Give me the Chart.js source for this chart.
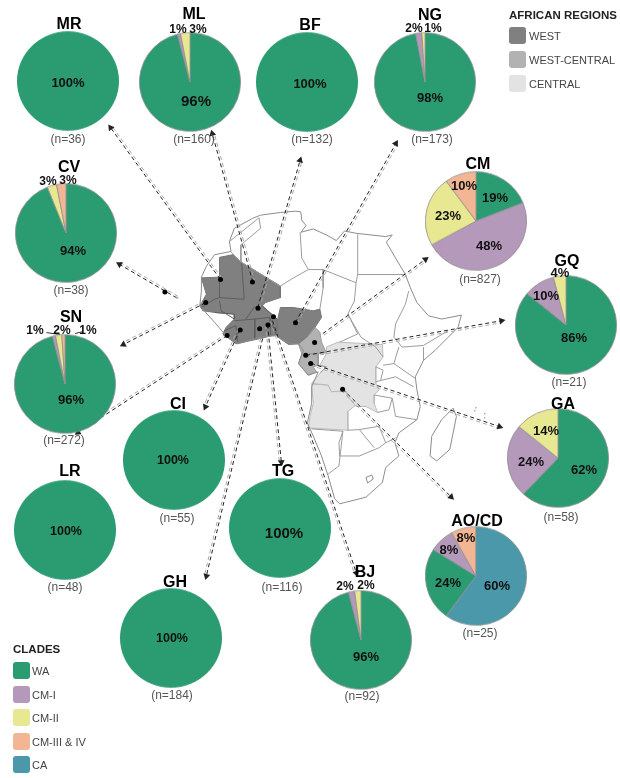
<!DOCTYPE html>
<html>
<head>
<meta charset="utf-8">
<script src="https://cdn.jsdelivr.net/npm/chart.js@4"></script>
<style>
  html, body { margin: 0; padding: 0; background: #fff; }
  #page { position: relative; width: 620px; height: 778px; overflow: hidden; font-family: "Liberation Sans", Arial, sans-serif; }
  #page canvas { position: absolute; }
  .txt { position: absolute; white-space: nowrap; transform: translate(-50%, -50%); line-height: 1; }
  .pct { font-weight: bold; color: #111; }
  .title { font-weight: bold; font-size: 16px; color: #000; }
  .n { font-size: 12px; color: #555; }
  .leg { position: absolute; white-space: nowrap; font-size: 11px; color: #444; line-height: 1; }
  .sw { position: absolute; width: 17px; height: 17px; border-radius: 3px; }
</style>
</head>
<body>
<div id="page"><canvas id="map" style="left:0;top:0"></canvas></div>
<script>
// Clades, in the order the slices run round each pie
var clades = ["WA", "CM-I", "CM-II", "CM-III & IV", "CA"];
var cladeColors = ["#2b9b72", "#b499bb", "#e8e892", "#f2b694", "#4a98aa"];

// Sites
var sites   = ["MR", "ML", "BF", "NG", "CV", "SN", "CM", "GQ", "GA", "AO/CD", "CI", "LR", "TG", "GH", "BJ"];
var sampleN = [36, 160, 132, 173, 38, 272, 827, 21, 58, 25, 55, 48, 116, 184, 92];

// Percent of each clade per site
var valuesWA   = [100, 96, 100, 98, 94, 96, 19, 86, 62, 24, 100, 100, 100, 100, 96];
var valuesCM1  = [0, 1, 0, 2, 0, 1, 48, 10, 24, 8, 0, 0, 0, 0, 2];
var valuesCM2  = [0, 3, 0, 1, 3, 2, 23, 4, 14, 0, 0, 0, 0, 0, 2];
var valuesCM34 = [0, 0, 0, 0, 3, 1, 10, 0, 0, 8, 0, 0, 0, 0, 0];
var valuesCA   = [0, 0, 0, 0, 0, 0, 0, 0, 0, 60, 0, 0, 0, 0, 0];

// Page placement of each pie, its title and its (n=) label
var pieX   = [68, 190, 307, 425, 66, 65, 476, 566, 558, 476, 174, 65, 280, 171, 361];
var pieY   = [81, 82, 82, 82, 233, 384, 221, 325, 458, 576, 460, 530, 528, 638, 640];
var titleX = [69, 194, 310, 430, 69, 71, 478, 567, 563, 477, 178, 70, 283, 175, 365];
var titleY = [24, 14, 25, 15, 167, 317, 164, 261, 404, 521, 404, 471, 471, 582, 572];
var nX     = [68, 194, 312, 432, 71, 64, 480, 569, 561, 480, 177, 65, 282, 172, 362];
var nY     = [139, 139, 139, 139, 290, 440, 279, 382, 517, 633, 518, 587, 587, 695, 696];

// text, x, y, font size
var pctLabels = [
  ["100%", 68, 82, 13], ["96%", 196, 100, 15], ["1%", 178, 29, 12], ["3%", 198, 29, 12],
  ["100%", 310, 83, 13], ["2%", 414, 28, 12], ["1%", 433, 28, 12], ["98%", 430, 97, 13],
  ["3%", 48, 181, 12], ["3%", 68, 180, 12], ["94%", 73, 250, 13],
  ["1%", 35, 330, 12], ["2%", 62, 330, 12], ["1%", 88, 330, 12], ["96%", 71, 399, 13],
  ["19%", 495, 197, 13], ["48%", 489, 245, 13], ["23%", 448, 215, 13], ["10%", 464, 185, 13],
  ["4%", 560, 272, 13], ["10%", 546, 295, 13], ["86%", 574, 337, 13],
  ["14%", 546, 430, 13], ["24%", 531, 461, 13], ["62%", 584, 469, 13],
  ["8%", 466, 537, 13], ["8%", 449, 549, 13], ["24%", 448, 582, 13], ["60%", 497, 585, 13],
  ["100%", 173, 460, 12.5], ["100%", 66, 531, 12.5], ["100%", 284, 532, 15], ["100%", 172, 638, 12.5],
  ["2%", 345, 586, 12], ["2%", 366, 585, 12], ["96%", 366, 656, 13]
];

// Legend of regions
var regions = ["WEST", "WEST-CENTRAL", "CENTRAL"];
var regionColors = ["#808080", "#b2b2b2", "#e3e3e3"];

var coast = [[60,258],[75,225],[100,190],[150,180],[145,150],[160,110],[215,80],[240,70],[300,62],[345,58],[362,60],[365,85],[378,102],[362,122],[400,112],[440,130],[470,147],[495,118],[530,125],[620,135],[640,130],[622,152],[650,200],[680,250],[695,290],[715,335],[750,375],[790,385],[850,373],[840,410],[810,440],[770,480],[735,510],[710,560],[715,600],[725,650],[715,690],[660,730],[648,760],[660,800],[620,835],[610,880],[560,925],[480,945],[465,930],[445,860],[425,800],[400,740],[382,700],[395,640],[395,590],[415,545],[385,555],[355,520],[370,480],[355,460],[335,460],[300,445],[290,435],[240,440],[170,460],[130,430],[100,395],[55,345],[60,300],[60,258]];
var madagascar = [[825,655],[835,680],[815,780],[775,815],[755,800],[760,740],[790,690],[825,655]];
var lesotho = [[560,865],[578,858],[582,870],[565,882],[560,865]];
var borders = [
  [[150,182],[180,212],[300,285],[340,260],[385,235],[365,200],[360,122]],
  [[145,150],[235,78],[240,110],[180,160],[180,212]],
  [[385,235],[430,235],[530,275],[535,250],[535,128]],
  [[535,250],[675,250]],
  [[530,275],[525,330],[505,370],[535,430],[480,455]],
  [[430,235],[430,290],[420,355]],
  [[505,370],[545,440],[590,470],[612,500]],
  [[690,300],[680,340],[650,400],[645,440],[670,470],[735,465],[810,420]],
  [[735,510],[735,470]],
  [[612,525],[645,520],[660,470]],
  [[645,520],[710,565]],
  [[590,575],[650,560],[705,590]],
  [[585,615],[640,625],[650,680],[715,690]],
  [[595,668],[630,660],[640,625]],
  [[505,722],[540,720],[600,710],[620,760],[600,775],[540,800],[480,800],[478,760],[490,725]],
  [[395,718],[490,725],[478,830],[445,855]],
  [[540,720],[585,775]],
  [[620,760],[650,745]],
  [[590,530],[612,540],[605,570]],
  [[415,525],[440,530],[420,548]],
  [[385,435],[405,410]],
  [[385,490],[415,490],[415,525]]
];
var westBorders = [
  [[100,365],[160,370],[160,385]],
  [[60,350],[100,325],[115,320],[190,325],[182,212]],
  [[115,320],[115,258]],
  [[115,330],[120,360],[160,385]],
  [[195,385],[220,350],[245,345],[290,385]],
  [[160,390],[222,385],[222,445]],
  [[222,385],[268,380],[288,435]],
  [[268,380],[270,435]],
  [[130,420],[165,405],[170,455]]
];
var westPoly = [[60,260],[115,258],[115,198],[155,190],[180,212],[300,285],[300,320],[255,335],[245,345],[290,385],[290,435],[275,435],[235,445],[165,460],[125,430],[135,410],[160,385],[160,370],[100,365],[65,360],[55,345],[75,310],[60,260]];
var nigeriaPoly = [[300,350],[340,350],[400,360],[420,355],[425,380],[405,410],[385,435],[355,460],[325,462],[300,445],[292,435],[292,385],[300,350]];
var cameroonPoly = [[405,410],[420,425],[425,455],[440,488],[385,490],[365,490],[355,460],[385,435],[405,410]];
var gabonPoly = [[365,490],[415,490],[415,525],[400,530],[410,545],[385,555],[355,520],[365,490]];
var congoPoly = [[440,470],[475,455],[610,462],[612,500],[590,530],[590,580],[600,600],[585,615],[585,640],[595,668],[560,650],[530,650],[505,620],[500,603],[455,605],[445,585],[395,580],[420,550],[440,530],[420,525],[440,490],[440,470]];
var angolaPoly = [[395,582],[445,585],[455,605],[500,605],[505,620],[530,645],[505,665],[505,722],[385,715],[390,680],[400,640],[395,582]];

// Sampling sites on the map, same crop
var mapDots = [[118,265],[215,273],[73,335],[232,352],[279,378],[262,403],[237,414],[178,418],[138,435],[346,396],[404,456],[377,495],[392,520],[489,598]];
var capeVerde = [[163,291]]; // page coords
var islets = [[176,297],[174,296],[524,431],[487,414],[487,418],[478,408],[477,411]];

// Arrows in page coords: from, to
var arrows = [
  [[219,278],[108,125]], [[252,281],[211,131]], [[257,307],[300,158]], [[295,322],[397,141]],
  [[323,333],[427,258]], [[306,355],[504,320]], [[311,363],[502,427]], [[343,389],[453,498]],
  [[175,297],[117,263]], [[204,302],[121,344]], [[226,335],[75,433]], [[239,329],[204,407]],
  [[262,338],[205,578]], [[267,324],[281,463]], [[272,320],[357,575]]
];
var leaders = [[[43,332],[57,334]], [[72,333],[80,331]]];

function fromCrop(pts) {
  return pts.map(function (p) { return { x: 180 + p[0] / 3, y: 190 + p[1] / 3 }; });
}
function fromPage(pts) {
  return pts.map(function (p) { return { x: p[0], y: p[1] }; });
}

var mapSets = [];
function addLine(points, color, width, fillColor, dash, order) {
  mapSets.push({
    data: points, showLine: true, borderColor: color, borderWidth: width, pointRadius: 0,
    fill: fillColor ? 'shape' : false, backgroundColor: fillColor || 'transparent',
    borderDash: dash || [], tension: 0, order: order
  });
}

addLine(fromCrop(westPoly), '#777', 1, regionColors[0], null, 5);
addLine(fromCrop(nigeriaPoly), '#777', 1, regionColors[0], null, 5);
addLine(fromCrop(cameroonPoly), '#9a9a9a', 1, regionColors[1], null, 5);
addLine(fromCrop(gabonPoly), '#9a9a9a', 1, regionColors[1], null, 5);
addLine(fromCrop(congoPoly), '#bbbbbb', 1, regionColors[2], null, 5);
addLine(fromCrop(angolaPoly), '#bbbbbb', 1, regionColors[2], null, 5);
addLine(fromCrop(coast), '#8c8c8c', 1, null, null, 4);
addLine(fromCrop(madagascar), '#8c8c8c', 1, null, null, 4);
addLine(fromCrop(lesotho), '#8c8c8c', 1, null, null, 4);
borders.forEach(function (b) { addLine(fromCrop(b), '#9c9c9c', 1, null, null, 4); });
westBorders.forEach(function (b) { addLine(fromCrop(b), '#5e5e5e', 1, null, null, 4); });
leaders.forEach(function (l) { addLine(fromPage(l), '#333', 1, null, null, 1); });

arrows.forEach(function (a) {
  var dx = a[1][0] - a[0][0], dy = a[1][1] - a[0][1];
  var len = Math.sqrt(dx * dx + dy * dy);
  var ox = -dy / len * 2, oy = dx / len * 2;
  addLine([{ x: a[0][0] + ox, y: a[0][1] + oy }, { x: a[1][0] + ox, y: a[1][1] + oy }], '#a8a8a8', 1, null, [4, 3], 3);
  addLine(fromPage(a), '#222', 1, null, [4, 3], 2);
  mapSets.push({
    data: [{ x: a[1][0], y: a[1][1] }], pointStyle: 'triangle', pointRadius: 4,
    pointRotation: Math.atan2(dy, dx) * 180 / Math.PI + 90,
    pointBackgroundColor: '#222', pointBorderWidth: 0, order: 1
  });
});

mapSets.push({ data: fromCrop(mapDots).concat(fromPage(capeVerde)), pointRadius: 2.5, pointBackgroundColor: '#000', pointBorderWidth: 0, order: 1 });
mapSets.push({ data: fromPage(islets), pointRadius: 0.8, pointBackgroundColor: '#999', pointBorderWidth: 0, order: 1 });

var page = document.getElementById('page');
var mapCanvas = document.getElementById('map');
mapCanvas.width = 620;
mapCanvas.height = 778;

new Chart(mapCanvas.getContext('2d'), {
  type: 'scatter',
  data: { datasets: mapSets },
  options: {
    responsive: false,
    animation: false,
    layout: { padding: 0 },
    plugins: { legend: { display: false }, tooltip: { enabled: false } },
    scales: {
      x: { type: 'linear', min: 0, max: 620, display: false },
      y: { type: 'linear', min: 0, max: 778, reverse: true, display: false }
    }
  }
});

// One small pie per site
var allValues = [valuesWA, valuesCM1, valuesCM2, valuesCM34, valuesCA];
sites.forEach(function (site, i) {
  var vals = [], cols = [], total = 0;
  allValues.forEach(function (series, c) {
    if (series[i] > 0) {
      vals.push(series[i]);
      cols.push(cladeColors[c]);
      total += series[i];
    }
  });
  var canvas = document.createElement('canvas');
  canvas.width = 102;
  canvas.height = 102;
  canvas.style.left = (pieX[i] - 51) + 'px';
  canvas.style.top = (pieY[i] - 51) + 'px';
  canvas.style.transform = 'scaleY(0.975)';
  page.appendChild(canvas);
  new Chart(canvas.getContext('2d'), {
    type: 'pie',
    data: {
      labels: clades.filter(function (c, k) { return allValues[k][i] > 0; }),
      // a single full slice would get a radial seam from its border
      datasets: [{ data: vals, backgroundColor: cols, borderColor: '#8f8f8f', borderWidth: vals.length > 1 ? 0.8 : 0 }]
    },
    options: {
      responsive: false,
      animation: false,
      // AO/CD has CA running clockwise from twelve o'clock, so WA starts after it
      rotation: valuesCA[i] / total * 360,
      layout: { padding: 0 },
      plugins: { legend: { display: false }, tooltip: { enabled: false } }
    }
  });
  addText(site, titleX[i], titleY[i], 'title');
  addText('(n=' + sampleN[i] + ')', nX[i], nY[i], 'n');
});

pctLabels.forEach(function (p) {
  var el = addText(p[0], p[1], p[2], 'pct');
  el.style.fontSize = p[3] + 'px';
});

function addText(text, x, y, cls) {
  var el = document.createElement('div');
  el.className = 'txt ' + cls;
  el.textContent = text;
  el.style.left = x + 'px';
  el.style.top = y + 'px';
  el.style.zIndex = 5;
  page.appendChild(el);
  return el;
}
function addLegend(title, titleTop, left, labels, colors, swatchTops, textLeft) {
  var h = document.createElement('div');
  h.className = 'leg';
  h.style.cssText = 'left:' + left + 'px;top:' + titleTop + 'px;font-weight:bold;font-size:11.5px;color:#222';
  h.textContent = title;
  page.appendChild(h);
  labels.forEach(function (label, i) {
    var sw = document.createElement('div');
    sw.className = 'sw';
    sw.style.cssText = 'left:' + left + 'px;top:' + swatchTops[i] + 'px;background:' + colors[i];
    page.appendChild(sw);
    var t = document.createElement('div');
    t.className = 'leg';
    t.style.cssText = 'left:' + textLeft + 'px;top:' + (swatchTops[i] + 4) + 'px';
    t.textContent = label;
    page.appendChild(t);
  });
}
addLegend('AFRICAN REGIONS', 10, 509, regions, regionColors, [27, 51, 75], 529);
addLegend('CLADES', 644, 13, clades, cladeColors, [662, 686, 709, 733, 756], 32);
</script>
</body>
</html>
